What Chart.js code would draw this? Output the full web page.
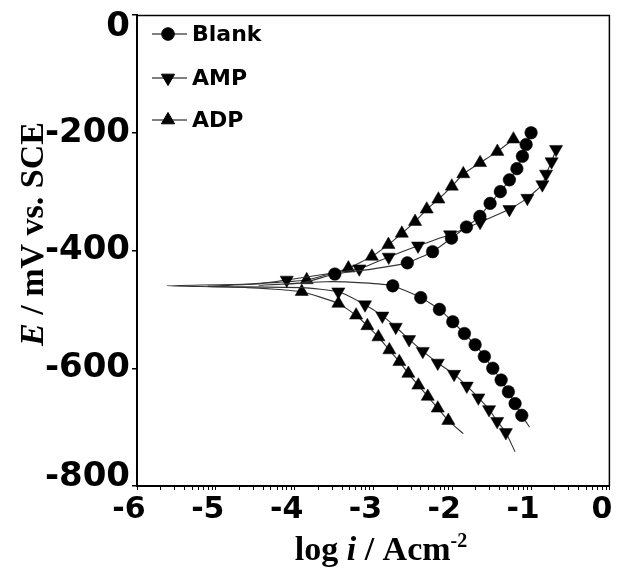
<!DOCTYPE html>
<html><head><meta charset="utf-8">
<script src="https://cdn.jsdelivr.net/npm/chart.js@4.4.1/dist/chart.umd.min.js"></script>
<style>html,body{margin:0;padding:0;background:#fff;}canvas{display:block;}</style>
</head><body>
<canvas id="c" width="618" height="569"></canvas>
<script>
// ---- data (log i / A cm^-2 , E / mV vs SCE) ----
const seriesNames = ['Blank', 'AMP', 'ADP'];

const blankLogI = [-1.02,-1.118,-1.203,-1.288,-1.38,-1.486,-1.593,-1.71,-1.846,-1.994,-2.163,-2.40,-2.755,-3.13,-3.6,-4.45,-3.9,-3.49,-3.04,-2.57,-2.25,-2.01,-1.82,-1.65,-1.52,-1.39,-1.275,-1.18,-1.11,-1.063,-1.0];
const blankE    = [-700,-680,-660,-640,-620,-600,-580,-560,-541,-521,-500,-480,-460,-455,-453,-459,-455,-440,-432,-421,-402,-379,-360,-342,-320,-300,-280,-261,-240,-220,-200];
const blankMark = [0,1,1,1,1,1,1,1,1,1,1,1,1,0,0,0,0,1,0,1,1,1,1,1,1,1,1,1,1,1,1];

const ampLogI = [-1.203,-1.32,-1.43,-1.533,-1.669,-1.816,-1.977,-2.184,-2.374,-2.548,-2.717,-2.887,-3.107,-3.445,-3.9,-5.1,-4.5,-4.10,-3.6,-3.18,-2.806,-2.434,-2.028,-1.647,-1.275,-1.047,-0.857,-0.81,-0.74,-0.683];
const ampE    = [-742,-709,-690,-670,-650,-630,-610,-591,-571,-551,-530,-511,-492,-470,-463,-461,-457,-450,-440,-431,-411,-392,-373,-352,-330,-311,-288,-270,-249,-228];
const ampMark = [0,1,1,1,1,1,1,1,1,1,1,1,1,1,0,0,0,1,0,1,1,1,1,1,1,1,1,1,1,1];

const adpLogI = [-1.86,-2.05,-2.184,-2.311,-2.43,-2.557,-2.671,-2.798,-2.937,-3.077,-3.22,-3.445,-3.91,-4.6,-5.62,-4.6,-3.847,-3.318,-3.02,-2.81,-2.64,-2.472,-2.324,-2.176,-2.006,-1.86,-1.647,-1.428,-1.224];
const adpE    = [-711,-689,-668,-648,-629,-609,-589,-569,-547,-528,-510,-490,-470,-463,-460,-457,-450,-430,-410,-390,-371,-351,-330,-313,-291,-270,-251,-232,-211];
const adpMark = [0,1,1,1,1,1,1,1,1,1,1,1,1,0,0,0,1,1,1,1,1,1,1,1,1,1,1,1,1];

const xMajorTicks = [-6,-5,-4,-3,-2,-1,0];
const yTickValues = [-800,-600,-400,-200,0];

// minor (log) ticks between decades
const xAllTicks = [];
xMajorTicks.forEach(d => {
  xAllTicks.push(d);
  if (d < 0) for (let k = 2; k <= 9; k++) xAllTicks.push(d + Math.log10(k));
});

function toPts(xs, ys) { return xs.map((x, i) => ({x: x, y: ys[i]})); }
function mkSet(label, xs, ys, marks, style, rot, r) {
  return {
    label: label,
    data: toPts(xs, ys),
    showLine: true,
    borderColor: '#333333',
    borderWidth: 1.1,
    tension: 0.15,
    pointStyle: style,
    pointRotation: rot,
    markerSize: r,
    pointRadius: c => marks[c.dataIndex] ? r : 0,
    pointBackgroundColor: '#000',
    pointBorderColor: '#000',
    pointBorderWidth: 0.5
  };
}

const serif = '"Liberation Serif", "Times New Roman", serif';
const sans = '"DejaVu Sans", sans-serif';

const decor = {
  id: 'decor',
  afterDraw(chart) {
    const ctx = chart.ctx, a = chart.chartArea;
    ctx.save();
    // frame top/right
    ctx.strokeStyle = '#000';
    ctx.lineWidth = 1.5;
    ctx.beginPath();
    ctx.moveTo(a.left, a.top + 0.5);
    ctx.lineTo(a.right - 0.5, a.top + 0.5);
    ctx.lineTo(a.right - 0.5, a.bottom);
    ctx.stroke();

    // legend
    const ys = [34, 78, 120];
    chart.data.datasets.forEach((ds, i) => {
      const y = ys[i];
      const x0 = a.left + 15;
      ctx.strokeStyle = '#000';
      ctx.lineWidth = 1;
      ctx.beginPath();
      ctx.moveTo(x0, y); ctx.lineTo(x0 + 35, y);
      ctx.stroke();
      ctx.fillStyle = '#000';
      ctx.strokeStyle = '#000';
      Chart.helpers.drawPoint(ctx, {pointStyle: ds.pointStyle, rotation: ds.pointRotation, radius: ds.markerSize, borderWidth: 0.5}, x0 + 16, y);
      ctx.fillStyle = '#000';
      ctx.font = 'bold 22px ' + sans;
      ctx.textBaseline = 'middle';
      ctx.textAlign = 'left';
      ctx.fillText(ds.label, x0 + 40, y + 1);
    });

    // axis titles (mixed italic)
    function rich(parts, cx, by) {
      let w = 0;
      parts.forEach(p => { ctx.font = p.f; p.w = ctx.measureText(p.t).width; w += p.w; });
      let x = cx - w / 2;
      ctx.textAlign = 'left';
      ctx.textBaseline = 'alphabetic';
      parts.forEach(p => { ctx.font = p.f; ctx.fillText(p.t, x, by + (p.dy || 0)); x += p.w; });
    }
    ctx.fillStyle = '#000';
    rich([
      {t: 'log ', f: 'bold 34px ' + serif},
      {t: 'i', f: 'italic bold 34px ' + serif},
      {t: ' / Acm', f: 'bold 34px ' + serif},
      {t: '-2', f: 'bold 20px ' + serif, dy: -13}
    ], 381, 560);
    ctx.save();
    ctx.translate(43, 234);
    ctx.rotate(-Math.PI / 2);
    rich([
      {t: 'E', f: 'italic bold 34px ' + serif},
      {t: ' / mV vs. SCE', f: 'bold 34px ' + serif}
    ], 0, 0);
    ctx.restore();
    ctx.restore();
  }
};

new Chart(document.getElementById('c'), {
  type: 'scatter',
  data: {
    datasets: [
      mkSet(seriesNames[0], blankLogI, blankE, blankMark, 'circle', 0, 6.3),
      mkSet(seriesNames[1], ampLogI, ampE, ampMark, 'triangle', 180, 7.6),
      mkSet(seriesNames[2], adpLogI, adpE, adpMark, 'triangle', 0, 7.6)
    ]
  },
  options: {
    responsive: false,
    animation: false,
    events: [],
    devicePixelRatio: 1,
    layout: {padding: {left: 0, right: 8, top: 15, bottom: 0}},
    plugins: {legend: {display: false}, tooltip: {enabled: false}},
    scales: {
      x: {
        type: 'linear', min: -6, max: 0,
        afterBuildTicks: s => { s.ticks = xAllTicks.map(v => ({value: v})); },
        ticks: {
          autoSkip: false, maxRotation: 0, minRotation: 0,
          callback: v => (Math.abs(v - Math.round(v)) < 1e-9 ? String(Math.round(v)) : ''),
          font: {family: sans, size: 30, weight: 'bold'},
          color: '#000', padding: 2, labelOffset: -8
        },
        grid: {drawOnChartArea: false, drawTicks: true, tickLength: 4, color: '#000', lineWidth: 1},
        border: {display: true, color: '#000', width: 2},
        afterFit: s => { s.height = 83; s.paddingLeft = 0; s.paddingRight = 0; }
      },
      y: {
        type: 'linear', min: -800, max: 0,
        afterBuildTicks: s => { s.ticks = yTickValues.map(v => ({value: v})); },
        ticks: {
          callback: v => (v === 0 ? ['', '0'] : v === -800 ? ['-800', ''] : String(v)),
          font: c => ({family: sans, size: 34, weight: 'bold', lineHeight: (c.tick && c.tick.value === -800) ? 0.53 : 0.7}),
          color: '#000', padding: 2
        },
        grid: {drawOnChartArea: false, drawTicks: true, tickLength: 5, color: '#000', lineWidth: 1.5},
        border: {display: true, color: '#000', width: 2},
        afterFit: s => { s.width = 137; s.paddingTop = 0; s.paddingBottom = 0; }
      }
    }
  },
  plugins: [decor]
});
</script>
</body></html>
